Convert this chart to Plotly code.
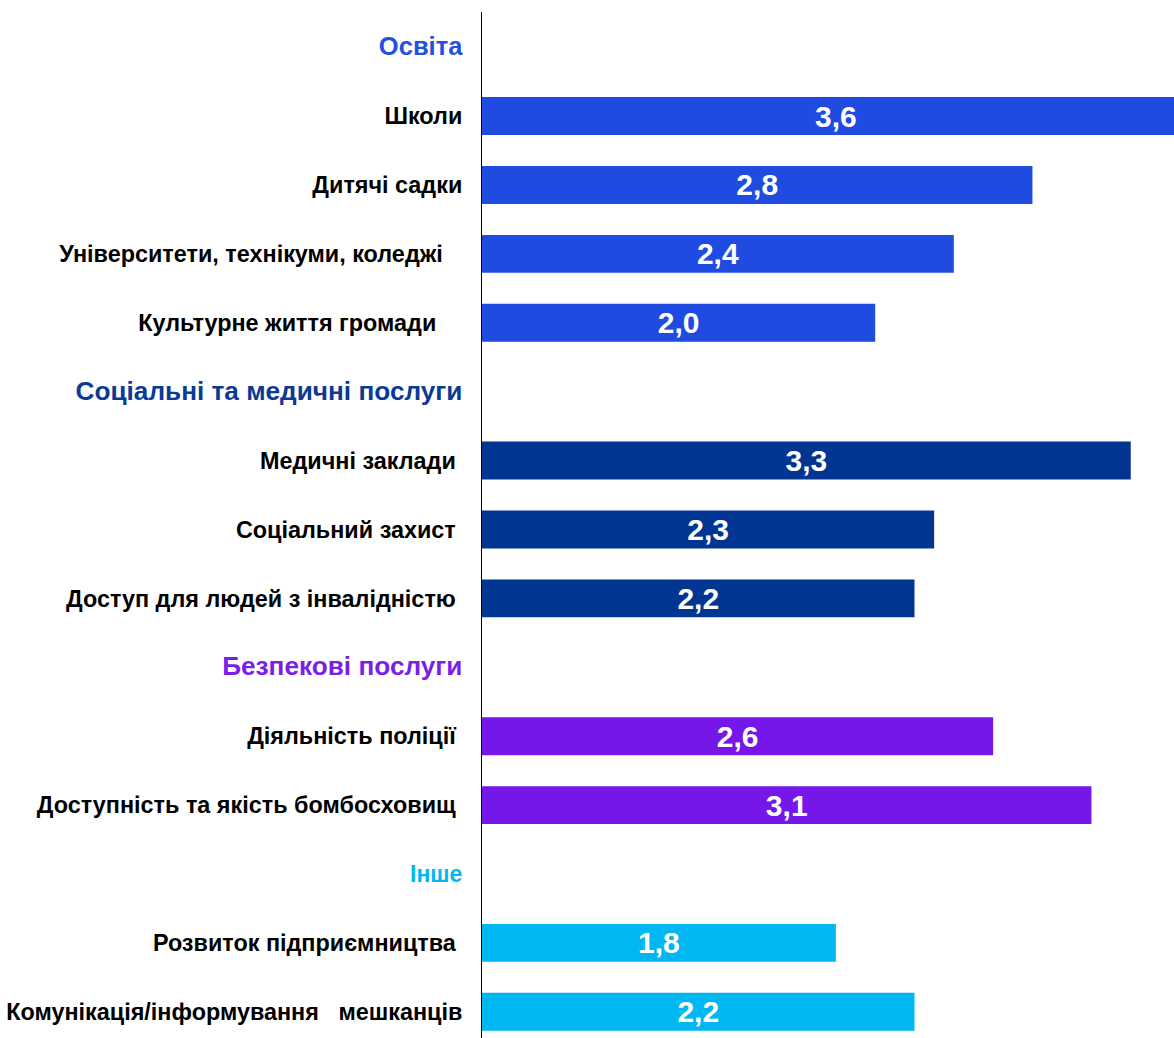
import plotly.graph_objects as go

NB = "\u00a0"
categories = [
    "Освіта",
    "Школи",
    "Дитячі садки",
    "Університети, технікуми, коледжі" + NB * 3,
    "Культурне життя громади" + NB * 4,
    "Соціальні та медичні послуги",
    "Медичні заклади" + NB,
    "Соціальний захист" + NB,
    "Доступ для людей з інвалідністю" + NB,
    "Безпекові послуги",
    "Діяльність поліції" + NB,
    "Доступність та якість бомбосховищ" + NB,
    "Інше",
    "Розвиток підприємництва" + NB,
    "Комунікація/інформування" + NB * 3 + "мешканців",
]
values = [None, 3.6, 2.8, 2.4, 2.0, None, 3.3, 2.3, 2.2, None, 2.6, 3.1, None, 1.8, 2.2]
is_header = [True, False, False, False, False, True, False, False, False, True, False, False, True, False, False]
header_sizes = [25.5, 26.2, 26.2, 23]
group_colors = ["#1F4BE0", "#003591", "#7417E8", "#00B7F1"]
header_colors = ["#2350E0", "#0A3A96", "#7A1FE8", "#00B7F1"]

# assign group per row
groups = []
g = -1
for h in is_header:
    if h:
        g += 1
    groups.append(g)

ypos = list(range(len(categories)))
ticktext = []
for c, h, gi in zip(categories, is_header, groups):
    if h:
        ticktext.append(f'<span style="color:{header_colors[gi]};font-size:{header_sizes[gi]}px">{c}</span>')
    else:
        ticktext.append(c)

bar_colors = [group_colors[gi] for gi in groups]
texts = ["" if v is None else f"{v:.1f}".replace(".", ",") for v in values]

fig = go.Figure(
    go.Bar(
        x=values,
        y=ypos,
        orientation="h",
        marker=dict(color=bar_colors, line=dict(width=0)),
        width=0.55,
        text=texts,
        textposition="inside",
        insidetextanchor="middle",
        constraintext="none",
        textfont=dict(family="Liberation Sans, Arial, sans-serif", size=30, color="white", weight="bold"),
        hoverinfo="skip",
    )
)

fig.update_layout(
    width=1174,
    height=1038,
    margin=dict(l=482, r=0, t=12, b=0, autoexpand=False),
    plot_bgcolor="white",
    paper_bgcolor="white",
    showlegend=False,
    font=dict(family="Liberation Sans, Arial, sans-serif"),
)
fig.update_xaxes(
    range=[0, 3.52],
    showgrid=False,
    zeroline=False,
    showticklabels=False,
    showline=False,
    automargin=False,
)
fig.update_yaxes(
    tickmode="array",
    tickvals=ypos,
    ticktext=ticktext,
    range=[14.38, -0.51],
    showgrid=False,
    zeroline=False,
    showline=True,
    linecolor="black",
    linewidth=1,
    ticks="",
    ticklabelstandoff=14,
    automargin=False,
    tickfont=dict(family="Liberation Sans, Arial, sans-serif", size=23.4, color="black", weight="bold"),
)

fig.write_html(
    "out.html",
    config={"displayModeBar": False},
    post_script="document.body.style.margin='0';document.body.style.overflow='hidden';",
)
